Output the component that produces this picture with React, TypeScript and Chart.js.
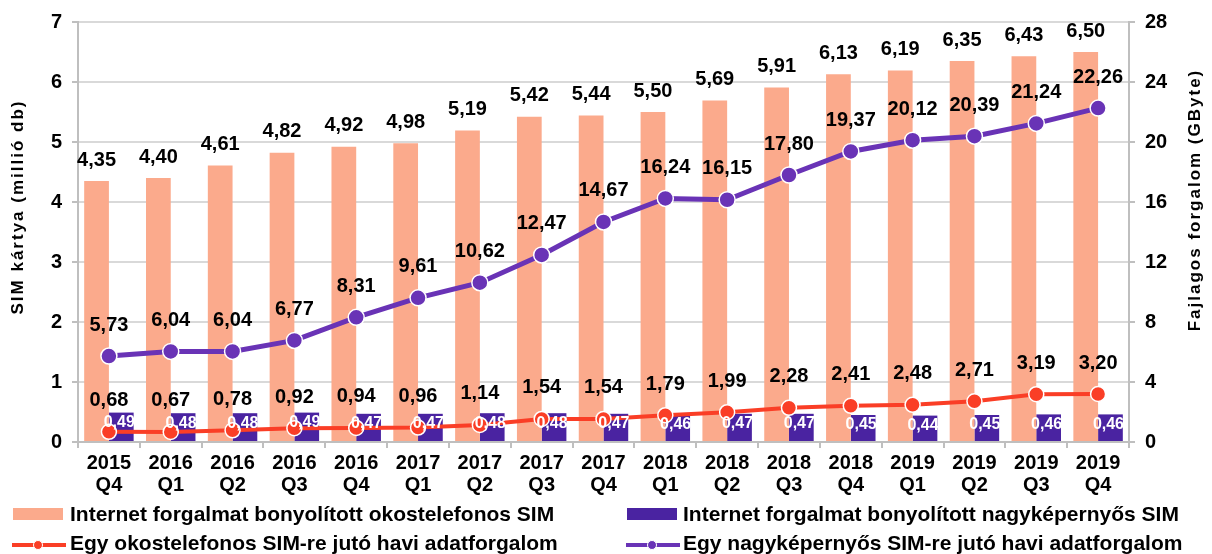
import React, { useEffect, useRef } from 'react';
import { Chart, registerables } from 'chart.js';

Chart.register(...registerables);

const FONT = '"Liberation Sans", Arial, Helvetica, sans-serif';

const categories: string[][] = [
  ['2015', 'Q4'], ['2016', 'Q1'], ['2016', 'Q2'], ['2016', 'Q3'], ['2016', 'Q4'],
  ['2017', 'Q1'], ['2017', 'Q2'], ['2017', 'Q3'], ['2017', 'Q4'],
  ['2018', 'Q1'], ['2018', 'Q2'], ['2018', 'Q3'], ['2018', 'Q4'],
  ['2019', 'Q1'], ['2019', 'Q2'], ['2019', 'Q3'], ['2019', 'Q4'],
];

const smartphoneSim = [4.35, 4.40, 4.61, 4.82, 4.92, 4.98, 5.19, 5.42, 5.44, 5.50, 5.69, 5.91, 6.13, 6.19, 6.35, 6.43, 6.50];
const largeScreenSim = [0.49, 0.48, 0.48, 0.49, 0.47, 0.47, 0.48, 0.48, 0.47, 0.46, 0.47, 0.47, 0.45, 0.44, 0.45, 0.46, 0.46];
const smartphoneTraffic = [0.68, 0.67, 0.78, 0.92, 0.94, 0.96, 1.14, 1.54, 1.54, 1.79, 1.99, 2.28, 2.41, 2.48, 2.71, 3.19, 3.20];
const largeScreenTraffic = [5.73, 6.04, 6.04, 6.77, 8.31, 9.61, 10.62, 12.47, 14.67, 16.24, 16.15, 17.80, 19.37, 20.12, 20.39, 21.24, 22.26];

const seriesNames = [
  'Internet forgalmat bonyolított okostelefonos SIM',
  'Internet forgalmat bonyolított nagyképernyős SIM',
  'Egy okostelefonos SIM-re jutó havi adatforgalom',
  'Egy nagyképernyős SIM-re jutó havi adatforgalom',
];

const leftAxisTitle = 'SIM kártya (millió db)';
const rightAxisTitle = 'Fajlagos forgalom (GByte)';

const COLORS = {
  salmon: '#FBAA8C',
  violetBar: '#4A23A1',
  violetLine: '#6933B6',
  red: '#FA3E26',
  axis: '#BFBFBF',
  grid: '#D9D9D9',
};

const fmt = (v: number) => v.toFixed(2).replace('.', ',');

const customPlugin = {
  id: 'customDecor',
  afterDatasetsDraw(chart: any) {
    const ctx = chart.ctx;
    ctx.save();
    ctx.textAlign = 'center';
    ctx.textBaseline = 'middle';
    chart.data.datasets.forEach((ds: any, i: number) => {
      const meta = chart.getDatasetMeta(i);
      meta.data.forEach((el: any, j: number) => {
        const txt = fmt(ds.data[j]);
        if (ds.labelKind === 'barTop') {
          ctx.font = `bold 20px ${FONT}`;
          ctx.fillStyle = '#000';
          ctx.fillText(txt, el.x, el.y - 21);
        } else if (ds.labelKind === 'barIn') {
          ctx.font = `bold 16px ${FONT}`;
          ctx.fillStyle = '#fff';
          ctx.fillText(txt, el.x - 2, el.y + 10);
        } else {
          ctx.font = `bold 20px ${FONT}`;
          ctx.fillStyle = '#000';
          ctx.fillText(txt, el.x, el.y - 31);
        }
      });
    });
    ctx.restore();
  },
  afterDraw(chart: any) {
    const ctx = chart.ctx;
    const area = chart.chartArea;
    // axis titles
    ctx.save();
    ctx.font = `bold 17px ${FONT}`;
    ctx.fillStyle = '#000';
    ctx.textAlign = 'center';
    ctx.textBaseline = 'middle';
    (ctx as any).letterSpacing = '2px';
    ctx.translate(18, (area.top + area.bottom) / 2 - 25);
    ctx.rotate(-Math.PI / 2);
    ctx.fillText(leftAxisTitle, 0, 0);
    ctx.restore();

    ctx.save();
    ctx.font = `bold 17px ${FONT}`;
    ctx.fillStyle = '#000';
    ctx.textAlign = 'center';
    ctx.textBaseline = 'middle';
    (ctx as any).letterSpacing = '2px';
    ctx.translate(1195, (area.top + area.bottom) / 2 - 32);
    ctx.rotate(-Math.PI / 2);
    ctx.fillText(rightAxisTitle, 0, 0);
    ctx.restore();

    // legend
    const rows = [514, 543];
    const cols = [{ mark: 12, text: 70 }, { mark: 626, text: 683 }];
    const items = [
      { name: seriesNames[0], type: 'bar', color: COLORS.salmon, row: 0, col: 0 },
      { name: seriesNames[1], type: 'bar', color: COLORS.violetBar, row: 0, col: 1 },
      { name: seriesNames[2], type: 'line', color: COLORS.red, row: 1, col: 0 },
      { name: seriesNames[3], type: 'line', color: COLORS.violetLine, row: 1, col: 1 },
    ];
    ctx.save();
    items.forEach((it) => {
      const y = rows[it.row];
      const c = cols[it.col];
      if (it.type === 'bar') {
        ctx.fillStyle = it.color;
        ctx.fillRect(c.mark + 1, y - 6, 50, 12);
      } else {
        ctx.strokeStyle = it.color;
        ctx.lineWidth = 4;
        ctx.beginPath();
        ctx.moveTo(c.mark, y + 2);
        ctx.lineTo(c.mark + 54, y + 2);
        ctx.stroke();
        ctx.beginPath();
        ctx.arc(c.mark + 26, y + 2, 4.5, 0, Math.PI * 2);
        ctx.fillStyle = it.color;
        ctx.fill();
        ctx.lineWidth = 1;
        ctx.strokeStyle = '#fff';
        ctx.stroke();
      }
      ctx.font = `bold 21px ${FONT}`;
      ctx.fillStyle = '#000';
      ctx.textAlign = 'left';
      ctx.textBaseline = 'middle';
      ctx.fillText(it.name, c.text, y + 1);
    });
    ctx.restore();
  },
};

export default function App() {
  const canvasRef = useRef<HTMLCanvasElement | null>(null);

  useEffect(() => {
    if (!canvasRef.current) return;
    const tickFont = { family: FONT, size: 20, weight: 'bold' as const, lineHeight: 1.1 };
    const chart = new Chart(canvasRef.current, {
      type: 'bar',
      data: {
        labels: categories,
        datasets: [
          {
            type: 'line',
            label: seriesNames[3],
            data: largeScreenTraffic,
            yAxisID: 'y1',
            borderColor: COLORS.violetLine,
            backgroundColor: COLORS.violetLine,
            borderWidth: 5,
            pointRadius: 8,
            pointBorderColor: '#fff',
            pointBorderWidth: 1.5,
            pointBackgroundColor: COLORS.violetLine,
            order: 0,
            labelKind: 'line',
          } as any,
          {
            type: 'line',
            label: seriesNames[2],
            data: smartphoneTraffic,
            yAxisID: 'y1',
            borderColor: COLORS.red,
            backgroundColor: COLORS.red,
            borderWidth: 4,
            pointRadius: 7.5,
            pointBorderColor: '#fff',
            pointBorderWidth: 1.5,
            pointBackgroundColor: COLORS.red,
            order: 0,
            labelKind: 'line',
          } as any,
          {
            type: 'bar',
            label: seriesNames[0],
            data: smartphoneSim,
            yAxisID: 'y',
            backgroundColor: COLORS.salmon,
            barPercentage: 1,
            categoryPercentage: 0.8,
            order: 2,
            labelKind: 'barTop',
          } as any,
          {
            type: 'bar',
            label: seriesNames[1],
            data: largeScreenSim,
            yAxisID: 'y',
            backgroundColor: COLORS.violetBar,
            barPercentage: 1,
            categoryPercentage: 0.8,
            order: 2,
            labelKind: 'barIn',
          } as any,
        ],
      },
      options: {
        animation: false,
        responsive: true,
        maintainAspectRatio: false,
        layout: { padding: { top: 20, bottom: 54, left: 0, right: 0 } },
        plugins: {
          legend: { display: false },
          tooltip: { enabled: false },
        },
        scales: {
          x: {
            grid: { offset: true, drawOnChartArea: false, drawTicks: true, tickLength: 6, color: COLORS.axis, lineWidth: 2 },
            border: { color: COLORS.axis, width: 2 },
            ticks: { font: tickFont, color: '#000', padding: 4, maxRotation: 0, autoSkip: false },
            afterFit: (s: any) => { s.height = 58; },
          },
          y: {
            position: 'left',
            min: 0,
            max: 7,
            ticks: { stepSize: 1, font: { family: FONT, size: 20, weight: 'bold' }, color: '#000', padding: 10 },
            grid: { color: COLORS.grid, lineWidth: 2, tickLength: 6, tickColor: COLORS.axis },
            border: { color: COLORS.axis, width: 2 },
            afterFit: (s: any) => { s.width = 78; },
          },
          y1: {
            position: 'right',
            min: 0,
            max: 28,
            ticks: { stepSize: 4, font: { family: FONT, size: 20, weight: 'bold' }, color: '#000', padding: 10 },
            grid: { drawOnChartArea: false, tickLength: 6, color: COLORS.axis, lineWidth: 2 },
            border: { color: COLORS.axis, width: 2 },
            afterFit: (s: any) => { s.width = 83; },
          },
        },
      } as any,
      plugins: [customPlugin],
    });
    return () => chart.destroy();
  }, []);

  return (
    <div style={{ position: 'fixed', left: 0, top: 0, width: 1212, height: 554, background: '#fff' }}>
      <canvas ref={canvasRef} />
    </div>
  );
}
